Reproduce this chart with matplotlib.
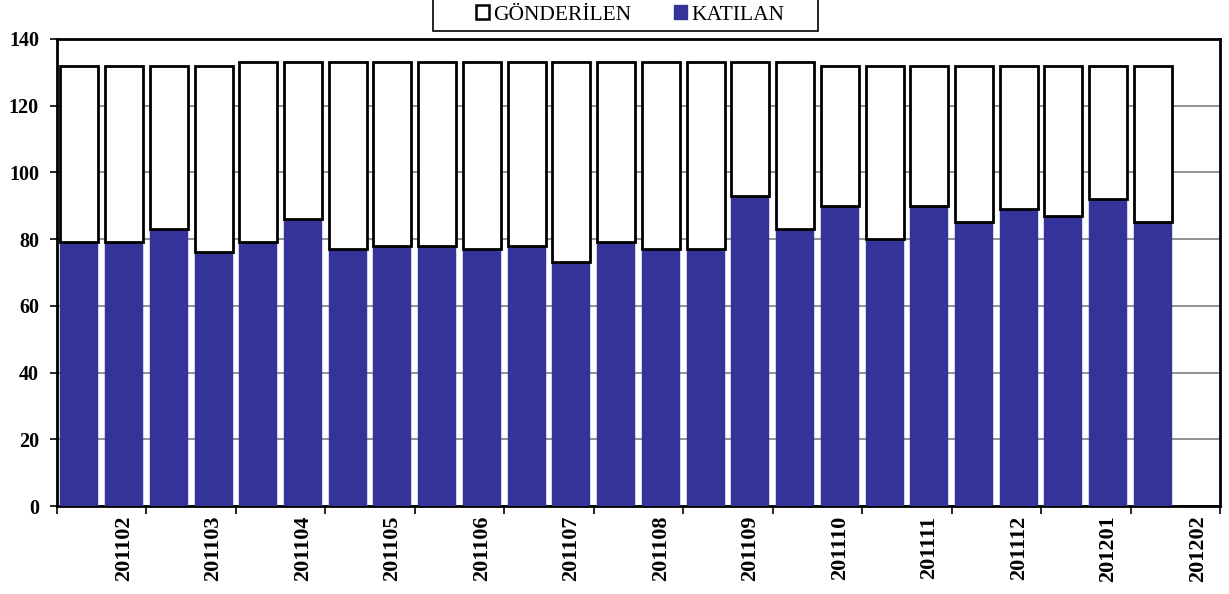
import matplotlib
matplotlib.use("Agg")
import matplotlib.pyplot as plt
import numpy as np
from matplotlib.patches import Patch, Rectangle

# Data
gonderilen = [132, 132, 132, 132, 133, 133, 133, 133, 133, 133, 133, 133, 133,
              133, 133, 133, 133, 132, 132, 132, 132, 132, 132, 132, 132, 0]
katilan = [79, 79, 83, 76, 79, 86, 77, 78, 78, 77, 78, 73, 79,
           77, 77, 93, 83, 90, 80, 90, 85, 89, 87, 92, 85, 0]
tick_labels = ['201102', '201103', '201104', '201105', '201106', '201107', '201108',
               '201109', '201110', '201111', '201112', '201201', '201202']
yticks = [0, 20, 40, 60, 80, 100, 120, 140]

plt.rcParams['font.family'] = ['Liberation Serif', 'DejaVu Serif']

fig = plt.figure(figsize=(12.29, 5.94), dpi=100)
ax = fig.add_axes([57/1229, 1 - 506/594, (1220 - 57)/1229, (506 - 39)/594])

n = len(katilan)
x = np.arange(n)
blue = '#333399'
rest = [g - k for g, k in zip(gonderilen, katilan)]

ax.bar(x, katilan, width=0.85, color=blue, edgecolor=blue, linewidth=0.3, zorder=3)
ax.bar(x, rest, bottom=katilan, width=0.85, color='white', edgecolor='black',
       linewidth=2, zorder=3)

ax.set_xlim(-0.5, n - 0.5)
ax.set_ylim(0, 140)
ax.set_yticks(yticks)
ax.set_yticklabels([str(v) for v in yticks], fontsize=14.5, fontweight='bold')
ax.yaxis.grid(True, color='#808080', linewidth=1.2, zorder=0)
ax.set_axisbelow(True)

# Tick marks at every second category boundary, labels at even categories
ax.set_xticks(np.arange(-0.5, n, 2))
ax.set_xticklabels([])
ax.set_xticks(np.arange(1, n, 2), minor=True)
ax.set_xticklabels(tick_labels, minor=True, rotation=90, fontsize=16, fontweight='bold')
ax.tick_params(axis='x', which='minor', length=0, pad=7)
ax.tick_params(axis='x', which='major', length=6, width=1.2, direction='out')
ax.tick_params(axis='y', length=5, width=1.2, direction='out', pad=8)

for s in ax.spines.values():
    s.set_linewidth(2)
    s.set_color('black')

# Legend box
fig.patches.append(Rectangle((433/1229, 1 - 31/594), (818 - 433)/1229, 31/594 + 0.01,
                             transform=fig.transFigure, facecolor='white',
                             edgecolor='black', linewidth=1.2, zorder=5))
handles = [Patch(facecolor='white', edgecolor='black', linewidth=1.8, label='GÖNDERİLEN'),
           Patch(facecolor=blue, edgecolor=blue, label='KATILAN')]
leg = fig.legend(handles=handles, loc='center', bbox_to_anchor=(630/1229, 1 - 15/594),
                 ncol=2, frameon=False, fontsize=15.5, handlelength=0.6,
                 handleheight=0.6, handletextpad=0.2, columnspacing=2.0, borderpad=0.3)
leg.set_zorder(6)

fig.savefig('out.png', dpi=100)
